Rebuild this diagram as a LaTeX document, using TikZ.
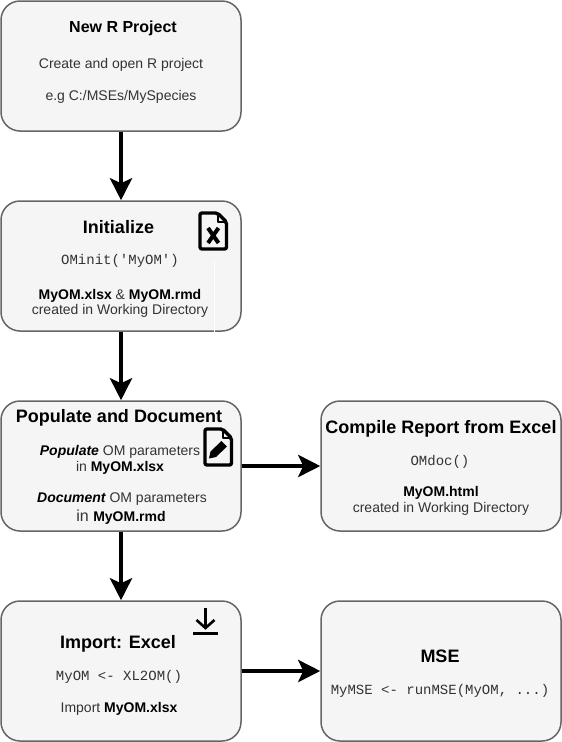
\documentclass[tikz,border=0pt]{standalone}
\usepackage{fontspec}
\setmainfont{Liberation Sans}
\setmonofont{Liberation Mono}
\usetikzlibrary{arrows.meta}
\definecolor{boxfill}{HTML}{F5F5F5}
\definecolor{boxline}{HTML}{666666}
\definecolor{bodytxt}{HTML}{333333}
\tikzset{
 x=1pt,y=-1pt,
 procbox/.style={draw=boxline,fill=boxfill,line width=1.5pt,rounded corners=19pt,minimum width=240pt,inner sep=0pt,outer sep=0.75pt},
 title/.style={font=\fontsize{18}{20}\selectfont\bfseries,text=black,inner sep=0pt,anchor=center},
 btxt/.style={font=\fontsize{14}{16}\selectfont,text=bodytxt,inner sep=0pt,anchor=center},
 code/.style={font=\fontsize{14}{16}\selectfont\ttfamily,text=bodytxt,inner sep=0pt,anchor=center},
 flow/.style={line width=4.5pt,-{Triangle[length=22pt,width=22pt,inset=5pt]},black},
 icon/.style={line width=3.4pt,black,line join=round,line cap=round},
}
\newcommand{\blk}[1]{\textcolor{black}{\bfseries #1}}
\begin{document}
\begin{tikzpicture}
\useasboundingbox (0,0) rectangle (562,742);
\node[procbox,minimum height=130pt] (new) at (121,66) {};
\node[procbox,minimum height=130pt] (init) at (121,266) {};
\node[procbox,minimum height=130pt] (pop) at (121,466) {};
\node[procbox,minimum height=140pt] (imp) at (121,671) {};
\node[procbox,minimum height=130pt] (rep) at (441,466) {};
\node[procbox,minimum height=140pt] (mse) at (441,671) {};
\draw[flow] (new) -- (init);
\draw[flow] (init) -- (pop);
\draw[flow] (pop) -- (imp);
\draw[flow] (pop) -- (rep);
\draw[flow] (imp) -- (mse);
% New R Project
\node[title,font=\fontsize{16}{18}\selectfont\bfseries] (t1) at (123,28) {New R Project};
\node[btxt] (t1a) at (121,64.5) {Create and open R project};
\node[btxt] (t1b) at (121,96.5) {e.g C:/MSEs/MySpecies};
% Initialize
\node[title] (t2) at (118.5,227) {Initialize};
\node[code] (t2a) at (120,261) {OMinit('MyOM')};
\node[btxt] (t2b) at (120,295.5) {\blk{MyOM.xlsx} \& \blk{MyOM.rmd}};
\node[btxt] (t2c) at (120,310.5) {created in Working Directory};
\draw[white,line width=1pt] (214.5,261) -- (214.5,332);
% Populate
\node[title] (t3) at (119,418) {Populate and Document};
\node[btxt] (t3a) at (120,451.5) {\blk{\itshape Populate} OM parameters};
\node[btxt] (t3b) at (120,467.5) {in \blk{MyOM.xlsx}};
\node[btxt] (t3c) at (122,499.5) {\blk{\itshape Document} OM parameters};
\node[btxt,font=\fontsize{16}{18}\selectfont] (t3d) at (121,517) {in \blk{\fontsize{14}{16}\selectfont MyOM.rmd}};
% Report
\node[title] (t4) at (441,429) {Compile Report from Excel};
\node[code] (t4a) at (440,462) {OMdoc()};
\node[btxt] (t4b) at (441,492.5) {\blk{MyOM.html}};
\node[btxt] (t4c) at (441,508.5) {created in Working Directory};
% Import
\node[title] (t5) at (118,644) {Import: Excel};
\node[code] (t5a) at (119,677) {MyOM <- XL2OM()};
\node[btxt] (t5b) at (119,708.5) {Import \blk{MyOM.xlsx}};
% MSE
\node[title] (t6) at (440,656) {MSE};
\node[code] (t6a) at (440,691) {MyMSE <- runMSE(MyOM, ...)};
% icon: excel file
\draw[icon,rounded corners=2pt] (200,213) -- (200,249) -- (226.5,249) -- (226.5,222) -- (217.5,213) -- cycle;
\draw[icon,line width=2pt,line cap=butt] (217.5,213) -- (217.5,222) -- (226.5,222);
\draw[line width=4pt,black,line cap=butt] (208,228) -- (218.5,243) (218.5,228) -- (208,243);
% icon: document with pencil
\draw[icon,rounded corners=2pt] (205,429) -- (205,465) -- (231.5,465) -- (231.5,438) -- (222.5,429) -- cycle;
\draw[icon,line width=2pt,line cap=butt] (222.5,429) -- (222.5,438) -- (231.5,438);
\fill[black] (209,458.5) -- (210.5,451.5) -- (221.5,441) -- (227,446.5) -- (216,457) -- cycle;
% icon: download
\draw[line width=2.6pt,black] (205.5,608) -- (205.5,627);
\draw[line width=2.6pt,black] (196.5,620) -- (205.5,628) -- (214.5,620);
\draw[line width=2.8pt,black] (193,633.5) -- (218,633.5);
\end{tikzpicture}
\end{document}
